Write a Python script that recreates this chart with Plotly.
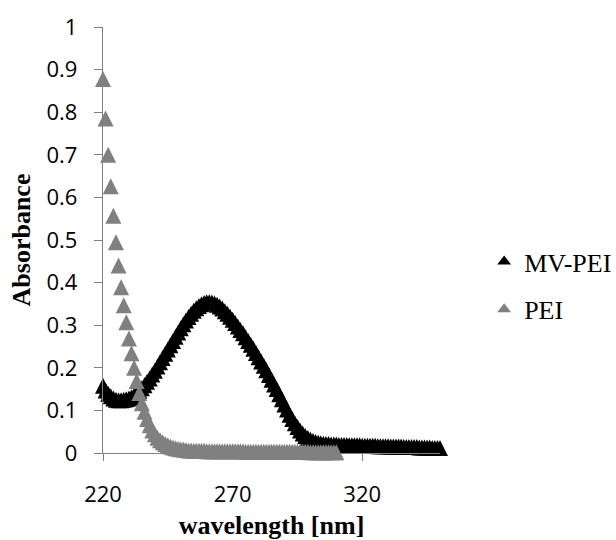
import plotly.graph_objects as go

# Absorbance spectra, 1 nm steps
wl_mvpei = list(range(220, 351))
abs_mvpei = [
    0.158, 0.147, 0.139, 0.133, 0.128, 0.125, 0.124, 0.124, 0.125, 0.126,
    0.128, 0.131, 0.135, 0.140, 0.146, 0.152, 0.159, 0.167, 0.175, 0.184,
    0.193, 0.203, 0.213, 0.223, 0.233, 0.243, 0.253, 0.263, 0.273, 0.283,
    0.293, 0.302, 0.311, 0.319, 0.327, 0.334, 0.340, 0.345, 0.349, 0.352,
    0.354, 0.354, 0.353, 0.351, 0.348, 0.344, 0.339, 0.333, 0.327, 0.320,
    0.313, 0.305, 0.297, 0.289, 0.281, 0.272, 0.263, 0.254, 0.245, 0.235,
    0.225, 0.215, 0.205, 0.194, 0.183, 0.172, 0.161, 0.150, 0.138, 0.126,
    0.114, 0.102, 0.090, 0.080, 0.070, 0.061, 0.053, 0.046, 0.040, 0.035,
    0.031, 0.028, 0.026, 0.024, 0.023, 0.022, 0.021, 0.021, 0.020, 0.020,
    0.020, 0.019, 0.019, 0.019, 0.019, 0.018, 0.018, 0.018, 0.018, 0.018,
    0.017, 0.017, 0.017, 0.017, 0.017, 0.017, 0.016, 0.016, 0.016, 0.016,
    0.016, 0.015, 0.015, 0.015, 0.015, 0.015, 0.014, 0.014, 0.014, 0.014,
    0.014, 0.014, 0.013, 0.013, 0.013, 0.013, 0.013, 0.012, 0.012, 0.012,
    0.012,
]

wl_pei = list(range(220, 311))
abs_pei = [
    0.878, 0.785, 0.700, 0.626, 0.557, 0.495, 0.440, 0.389, 0.347, 0.307,
    0.269, 0.234, 0.200, 0.169, 0.141, 0.117, 0.097, 0.080, 0.065, 0.053,
    0.044, 0.036, 0.030, 0.025, 0.021, 0.018, 0.015, 0.013, 0.011, 0.010,
    0.009, 0.008, 0.007, 0.006, 0.006, 0.005, 0.005, 0.005, 0.005, 0.005,
    0.004, 0.004, 0.004, 0.004, 0.004, 0.004, 0.004, 0.004, 0.004, 0.004,
    0.004, 0.004, 0.004, 0.004, 0.004, 0.003, 0.003, 0.003, 0.003, 0.003,
    0.003, 0.003, 0.003, 0.003, 0.003, 0.003, 0.003, 0.003, 0.003, 0.003,
    0.003, 0.003, 0.003, 0.003, 0.003, 0.003, 0.003, 0.003, 0.003, 0.003,
    0.002, 0.002, 0.002, 0.002, 0.002, 0.002, 0.002, 0.002, 0.002, 0.002,
    0.002,
]

series_names = ["MV-PEI", "PEI"]
x_tick_labels = [220, 270, 320]
x_tick_marks = [220, 320]

W, H = 616, 540
M = dict(l=103, r=176, t=27, b=87, autoexpand=False)
plot_h = H - M["t"] - M["b"]

MARK = 16  # triangle size in px (arrow-up: width = height = MARK)
# arrow-up markers hang below their anchor; a twin axis lifts them by half a marker
shift = (MARK / 2) / plot_h

AXIS_GREY = "#7f7f7f"
BLACK = "#000000"
GREY = "#808080"

fig = go.Figure()

fig.add_trace(go.Scatter(
    x=wl_mvpei, y=abs_mvpei, yaxis="y2", mode="markers", name=series_names[0],
    marker=dict(symbol="arrow-up", size=MARK, color=BLACK),
    showlegend=False, cliponaxis=False,
))
fig.add_trace(go.Scatter(
    x=wl_pei, y=abs_pei, yaxis="y2", mode="markers", name=series_names[1],
    marker=dict(symbol="arrow-up", size=MARK, color=GREY),
    showlegend=False, cliponaxis=False,
))

# legend keys
for nm, col, grp in [(series_names[0], BLACK, "a"), (series_names[1], GREY, "b")]:
    fig.add_trace(go.Scatter(
        x=[None], y=[None], mode="markers", name=nm, legendgroup=grp,
        marker=dict(symbol="triangle-up", size=12, color=col),
    ))

tick_font = dict(family="Open Sans", size=22, color="#000000")
title_font = dict(family="Liberation Serif", size=26, color="#000000")

fig.update_layout(
    width=W, height=H, margin=M,
    paper_bgcolor="white", plot_bgcolor="rgba(0,0,0,0)",
    xaxis=dict(
        range=[220, 350], showgrid=False, zeroline=False, automargin=False,
        showline=True, linecolor=AXIS_GREY, linewidth=1.3,
        tickvals=x_tick_labels, ticktext=[str(v) for v in x_tick_labels],
        ticks="", tickfont=tick_font, ticklabelstandoff=21,
        minor=dict(tickvals=x_tick_marks, ticks="outside", ticklen=7,
                   tickcolor=AXIS_GREY, tickwidth=1.3, showgrid=False),
        title=dict(text="<b>wavelength [nm]</b>", font=title_font, standoff=16),
    ),
    yaxis=dict(
        range=[0, 1], dtick=0.1, showgrid=False, zeroline=False, automargin=False,
        showline=True, linecolor=AXIS_GREY, linewidth=1.3,
        ticks="outside", ticklen=8, tickcolor=AXIS_GREY, tickwidth=1.3,
        tickfont=tick_font, ticklabelstandoff=12,
        title=dict(text="<b>Absorbance</b>", font=title_font, standoff=8),
    ),
    yaxis2=dict(
        overlaying="y", anchor="x", range=[-shift, 1 - shift], visible=False,
    ),
    legend=dict(
        x=1.131, xanchor="left", y=0.393, yanchor="middle",
        font=dict(family="Liberation Serif", size=26, color="#000000"),
        tracegroupgap=11, bgcolor="rgba(0,0,0,0)",
    ),
    showlegend=True,
)

fig.write_html("out.html")
